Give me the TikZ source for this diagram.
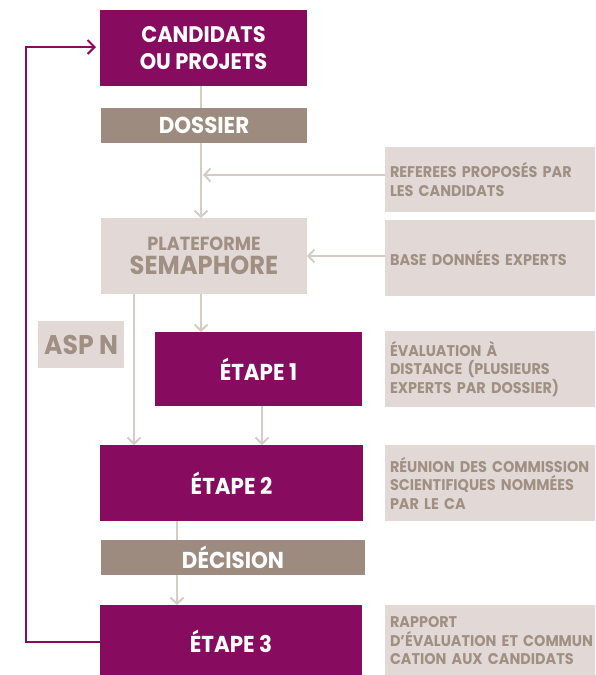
\documentclass[tikz,border=0pt]{standalone}
\usepackage{fontspec}
\newfontfamily\cf[FakeStretch=0.93]{Poppins}
\usetikzlibrary{arrows.meta}
\definecolor{purp}{HTML}{870C5F}
\definecolor{taupe}{HTML}{9D8B7F}
\definecolor{light}{HTML}{E2D9D6}
\definecolor{ltext}{HTML}{A09084}
\definecolor{conn}{HTML}{D5CCC7}
\tikzset{
  box/.style={inner sep=0pt, outer sep=0pt, anchor=north west, align=center},
  pbox/.style={box, fill=purp, text=white, font=\cf\bfseries\fontsize{23}{26}\selectfont},
  tbox/.style={box, fill=taupe, text=white, font=\cf\bfseries\fontsize{23}{26}\selectfont},
  sbox/.style={box, fill=light, text=ltext, align=left, font=\cf\bfseries\fontsize{15.5}{18.5}\selectfont, text width=220pt, inner xsep=5pt},
  conline/.style={draw=conn, line width=2pt},
  conarrow/.style={conline, -{Straight Barb[length=6pt, width=13pt, line width=2pt]}},
  loop/.style={draw=purp, line width=2.5pt, -{Straight Barb[length=7pt, width=14pt, line width=2pt]}}
}
\begin{document}
\begin{tikzpicture}[x=1pt,y=-1pt]
\useasboundingbox (0,0) rectangle (595,675);
\clip (0,0) rectangle (595,675);
% main column
\node[pbox, minimum width=207pt, minimum height=76pt, font=\cf\bfseries\fontsize{22.5}{27}\selectfont] (cand) at (100,10) {CANDIDATS\\OU PROJETS};
\node[tbox, minimum width=206pt, minimum height=35pt] (dos) at (101,108) {DOSSIER};
\node[box, fill=light, text=ltext, minimum width=206pt, minimum height=76pt] (plat) at (101,218)
  {{\cf\bfseries\fontsize{19}{19}\selectfont PLATEFORME}\\[4pt]{\cf\bfseries\fontsize{26}{26}\selectfont SEMAPHORE}};
\node[box, fill=light, text=ltext, minimum width=86pt, minimum height=47pt, font=\cf\bfseries\fontsize{27}{27}\selectfont] (asp) at (38,321) {ASP N};
\node[pbox, minimum width=207pt, minimum height=74pt] (e1) at (155,332) {ÉTAPE 1};
\node[pbox, minimum width=263pt, minimum height=76pt] (e2) at (100,445) {ÉTAPE 2};
\node[tbox, minimum width=264pt, minimum height=35pt] (dec) at (101,540) {DÉCISION};
\node[pbox, minimum width=262pt, minimum height=72pt] (e3) at (100,605) {ÉTAPE 3};
% side boxes
\node[sbox, minimum height=65pt] (ref) at (385,147) {REFEREES PROPOSÉS PAR\\LES CANDIDATS};
\node[sbox, minimum height=76pt] (base) at (385,220) {BASE DONNÉES EXPERTS};
\node[sbox, minimum height=76pt] (eval) at (385,331) {ÉVALUATION À\\DISTANCE (PLUSIEURS\\EXPERTS PAR DOSSIER)};
\node[sbox, minimum height=76pt] (reun) at (385,445) {RÉUNION DES COMMISSION\\SCIENTIFIQUES NOMMÉES\\PAR LE CA};
\node[sbox, minimum height=72pt] (rap) at (385,605) {RAPPORT\\D’ÉVALUATION ET COMMUN\\CATION AUX CANDIDATS};
% connectors
\coordinate (j1) at (201,175);
\draw[conline] (cand.south -| 201,0) -- (dos.north -| 201,0);
\draw[conarrow] (dos.south -| 201,0) -- (plat.north -| 201,0);
\draw[conarrow] (ref.west |- j1) -- ([xshift=2pt]j1);
\draw[conarrow] (base.west |- 0,256) -- (plat.east |- 0,256);
\draw[conarrow] (plat.south -| 201,0) -- (e1.north -| 201,0);
\draw[conarrow] (plat.south -| 134,0) -- (e2.north -| 134,0);
\draw[conarrow] (e1.south -| 262,0) -- (e2.north -| 262,0);
\draw[conline] (e2.south -| 177,0) -- (dec.north -| 177,0);
\draw[conarrow] (dec.south -| 177,0) -- (e3.north -| 177,0);
\draw[loop] (e3.west |- 0,642) -- (26,642) -- (26,47) -- ([xshift=-4pt]cand.west |- 0,47);
\end{tikzpicture}
\end{document}
